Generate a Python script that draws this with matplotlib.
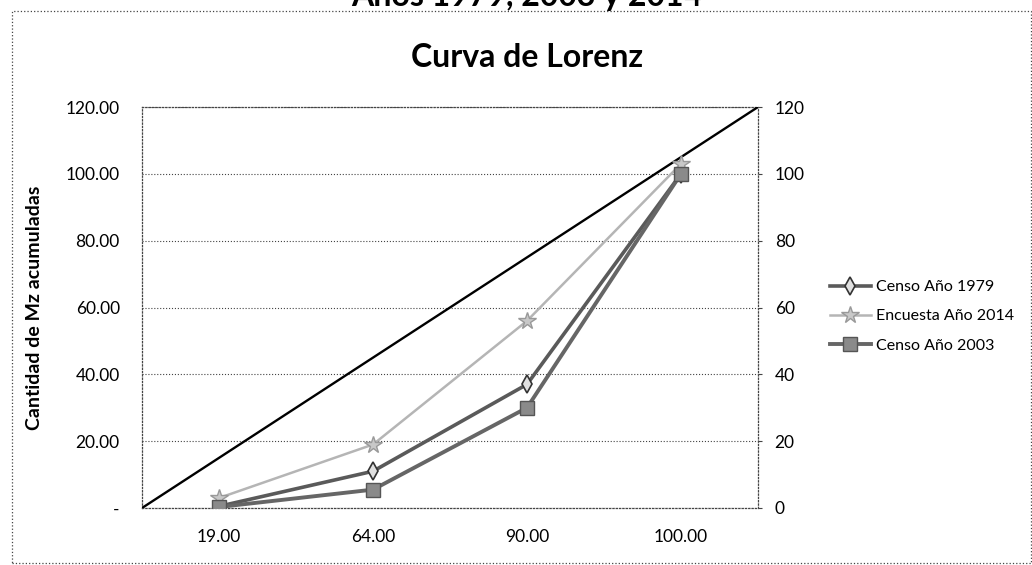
import matplotlib
matplotlib.use('Agg')
import matplotlib.pyplot as plt
from matplotlib.patches import Rectangle

plt.rcParams['font.family'] = ['Lato', 'DejaVu Sans']

# data
categorias = ['19.00', '64.00', '90.00', '100.00']
censo_1979 = [0.5, 11.0, 37.0, 100.0]
encuesta_2014 = [3.0, 19.0, 56.0, 103.0]
censo_2003 = [0.3, 5.5, 30.0, 100.0]
igualdad_x = [-0.5, 3.5]
igualdad_y = [0, 120]
yticks = [0, 20, 40, 60, 80, 100, 120]

fig = plt.figure(figsize=(10.32, 5.65), dpi=100)
ax = fig.add_axes([142/1032, 1-508/565, 616/1032, 401/565])

x = list(range(len(categorias)))
ax.plot(igualdad_x, igualdad_y, color='black', lw=1.7, zorder=3)
l1, = ax.plot(x, censo_1979, color='#5a5a5a', lw=2.6, marker='d', ms=9,
              mfc='#e0e0e0', mec='#333333', mew=1.2, label='Censo Año 1979', zorder=4)
l2, = ax.plot(x, encuesta_2014, color='#b5b5b5', lw=1.8, marker='*', ms=13,
              mfc='#c8c8c8', mec='#999999', label='Encuesta Año 2014', zorder=4)
l3, = ax.plot(x, censo_2003, color='#666666', lw=2.8, marker='s', ms=10,
              mfc='#8a8a8a', mec='#555555', label='Censo Año 2003', zorder=4)

ax.set_xlim(-0.5, 3.5)
ax.set_ylim(0, 120)
ax.set_xticks(x)
ax.set_xticklabels(categorias, fontsize=12.5)
ax.set_yticks(yticks)
ax.set_yticklabels(['-' if v == 0 else f'{v:.2f}' for v in yticks], fontsize=12.5)
ax.tick_params(axis='y', length=0, pad=16)
ax.tick_params(axis='x', length=0, pad=15)
ax.yaxis.grid(True, linestyle=':', color='#444444', lw=0.8)
for s in ax.spines.values():
    s.set_linestyle(':')
    s.set_color('#444444')
    s.set_linewidth(0.9)
ax.set_ylabel('Cantidad de Mz acumuladas', fontsize=14, fontweight='bold')
ax.yaxis.set_label_coords(-0.161, 0.5)

ax2 = ax.twinx()
ax2.set_ylim(0, 120)
ax2.set_yticks(yticks)
ax2.set_yticklabels([str(v) for v in yticks], fontsize=12.5)
ax2.tick_params(length=3, color='#444444', pad=9)
for s in ax2.spines.values():
    s.set_visible(False)

fig.text(527/1032, 1-67/565, 'Curva de Lorenz', fontsize=23, fontweight='bold',
         ha='center', va='baseline')
fig.text(527/1032, 1-6/565, 'Años 1979, 2003 y 2014', fontsize=23, fontweight='bold',
         ha='center', va='baseline')

fig.legend(handles=[l1, l2, l3], loc='center left', bbox_to_anchor=(0.79, 0.44),
           frameon=False, fontsize=11.5, handlelength=2.6, labelspacing=0.95,
           handletextpad=0.3)

fig.patches.append(Rectangle((12/1032, 0.003), 1 - 13/1032, 1 - 11/565 - 0.003,
                             transform=fig.transFigure, fill=False,
                             linestyle=':', edgecolor='#444444', lw=0.9))

fig.savefig('out.png', dpi=100)
